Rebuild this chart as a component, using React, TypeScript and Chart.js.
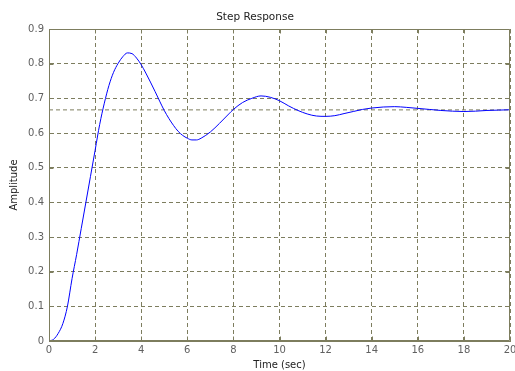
import React, { useEffect, useRef } from "react";
import { Chart, registerables } from "chart.js";

Chart.register(...registerables);

// Step response samples: time (s) and amplitude
const timeSec = [
  0, 0.2, 0.4, 0.6, 0.8, 1.0, 1.2, 1.4, 1.6, 1.8, 2.0, 2.2, 2.4, 2.6, 2.8,
  3.0, 3.2, 3.4, 3.6, 3.8, 4.0, 4.2, 4.4, 4.6, 4.8, 5.0, 5.2, 5.4, 5.6, 5.8,
  6.0, 6.2, 6.4, 6.6, 7.0, 7.4, 7.8, 8.0, 8.4, 8.8, 9.2, 9.6, 10.0, 10.4,
  10.8, 11.2, 11.6, 12.0, 12.4, 12.8, 13.2, 13.6, 14.0, 14.5, 15.0, 15.5,
  16.0, 16.5, 17.0, 17.5, 18.0, 18.5, 19.0, 19.5, 20.0,
];
const amplitude = [
  0, 0.005, 0.022, 0.05, 0.1, 0.18, 0.25, 0.325, 0.4, 0.475, 0.55, 0.625,
  0.686, 0.737, 0.775, 0.801, 0.82, 0.831, 0.829, 0.816, 0.797, 0.773, 0.747,
  0.72, 0.692, 0.665, 0.642, 0.622, 0.605, 0.593, 0.585, 0.58, 0.58, 0.585,
  0.603, 0.628, 0.655, 0.668, 0.688, 0.7, 0.707, 0.703, 0.693, 0.678, 0.665,
  0.655, 0.649, 0.648, 0.65, 0.656, 0.662, 0.668, 0.672, 0.675, 0.676, 0.674,
  0.671, 0.668, 0.665, 0.663, 0.662, 0.663, 0.665, 0.666, 0.667,
];
const steadyStateValue = 0.6667;
const xRange = [0, 20];
const yTickLabels = ["0", "0.1", "0.2", "0.3", "0.4", "0.5", "0.6", "0.7", "0.8", "0.9"];

const FRAME = "#7d7d5e";
const GRID = "#7d7d5e";
const FONT = "'DejaVu Sans', sans-serif";

const framePlugin = {
  id: "frame",
  afterDatasetsDraw(chart: any) {
    const { ctx, chartArea, scales } = chart;
    const l = Math.round(chartArea.left) + 0.5;
    const r = Math.round(chartArea.right) - 0.5;
    const t = Math.round(chartArea.top) + 0.5;
    const b = Math.round(chartArea.bottom) - 0.5;
    const len = 4;
    ctx.save();
    ctx.setLineDash([]);
    ctx.strokeStyle = FRAME;
    ctx.lineWidth = 1;
    ctx.beginPath();
    ctx.rect(l, t, r - l, b - t);
    for (const tick of scales.x.ticks) {
      const px = Math.round(scales.x.getPixelForValue(tick.value)) + 0.5;
      ctx.moveTo(px, t);
      ctx.lineTo(px, t + len);
      ctx.moveTo(px, b);
      ctx.lineTo(px, b - len);
    }
    for (const tick of scales.y.ticks) {
      const py = Math.round(scales.y.getPixelForValue(tick.value)) + 0.5;
      ctx.moveTo(l, py);
      ctx.lineTo(l + len, py);
      ctx.moveTo(r, py);
      ctx.lineTo(r - len, py);
    }
    ctx.stroke();
    ctx.restore();
  },
};

export default function App() {
  const canvasRef = useRef<HTMLCanvasElement | null>(null);

  useEffect(() => {
    const canvas = canvasRef.current;
    if (!canvas) return;
    const response = timeSec.map((t, i) => ({ x: t, y: amplitude[i] }));
    const steady = xRange.map((t) => ({ x: t, y: steadyStateValue }));

    const chart = new Chart(canvas, {
      type: "line",
      data: {
        datasets: [
          {
            data: response,
            borderColor: "#0000ff",
            borderWidth: 1,
            pointRadius: 0,
            cubicInterpolationMode: "monotone",
            fill: false,
          },
          {
            data: steady,
            borderColor: GRID,
            borderWidth: 1,
            borderDash: [4, 3],
            pointRadius: 0,
            fill: false,
          },
        ],
      },
      plugins: [framePlugin],
      options: {
        responsive: false,
        animation: false,
        devicePixelRatio: 1,
        layout: { padding: { top: 0, right: 5, bottom: 0, left: 0 } },
        plugins: {
          legend: { display: false },
          tooltip: { enabled: false },
          title: {
            display: true,
            text: "Step Response",
            color: "#222222",
            font: { family: FONT, size: 10.5, weight: "normal", lineHeight: 1.2 },
            padding: { top: 11, bottom: 5.4 },
          },
        },
        scales: {
          x: {
            type: "linear",
            min: xRange[0],
            max: xRange[1],
            afterFit(scale: any) {
              scale.height = 30;
              scale.paddingLeft = 0;
              scale.paddingRight = 0;
            },
            ticks: {
              stepSize: 2,
              color: "#606060",
              padding: 3,
              maxRotation: 0,
              font: { family: FONT, size: 10 },
            },
            grid: { color: GRID, lineWidth: 1, drawTicks: false },
            border: { display: true, color: FRAME, dash: [4, 3] },
            title: {
              display: true,
              text: "Time (sec)",
              color: "#222222",
              font: { family: FONT, size: 10, lineHeight: 1.2 },
              padding: { top: 0, bottom: 0 },
            },
          },
          y: {
            type: "linear",
            min: 0,
            max: 0.9,
            afterFit(scale: any) {
              scale.width = 49;
              scale.paddingTop = 0;
              scale.paddingBottom = 0;
            },
            ticks: {
              stepSize: 0.1,
              color: "#606060",
              padding: 5,
              font: { family: FONT, size: 10 },
              callback: (v: any) => yTickLabels[Math.round(Number(v) * 10)] ?? "",
            },
            grid: { color: GRID, lineWidth: 1, drawTicks: false },
            border: { display: true, color: FRAME, dash: [4, 3] },
            title: {
              display: true,
              text: "Amplitude",
              color: "#222222",
              font: { family: FONT, size: 10, lineHeight: 1.2 },
              padding: { top: 8, bottom: 0 },
            },
          },
        },
      },
    } as any);

    return () => chart.destroy();
  }, []);

  return (
    <div style={{ position: "absolute", left: 0, top: 0, width: 515, height: 371, background: "#ffffff" }}>
      <canvas ref={canvasRef} width={515} height={371} style={{ display: "block" }} />
    </div>
  );
}
